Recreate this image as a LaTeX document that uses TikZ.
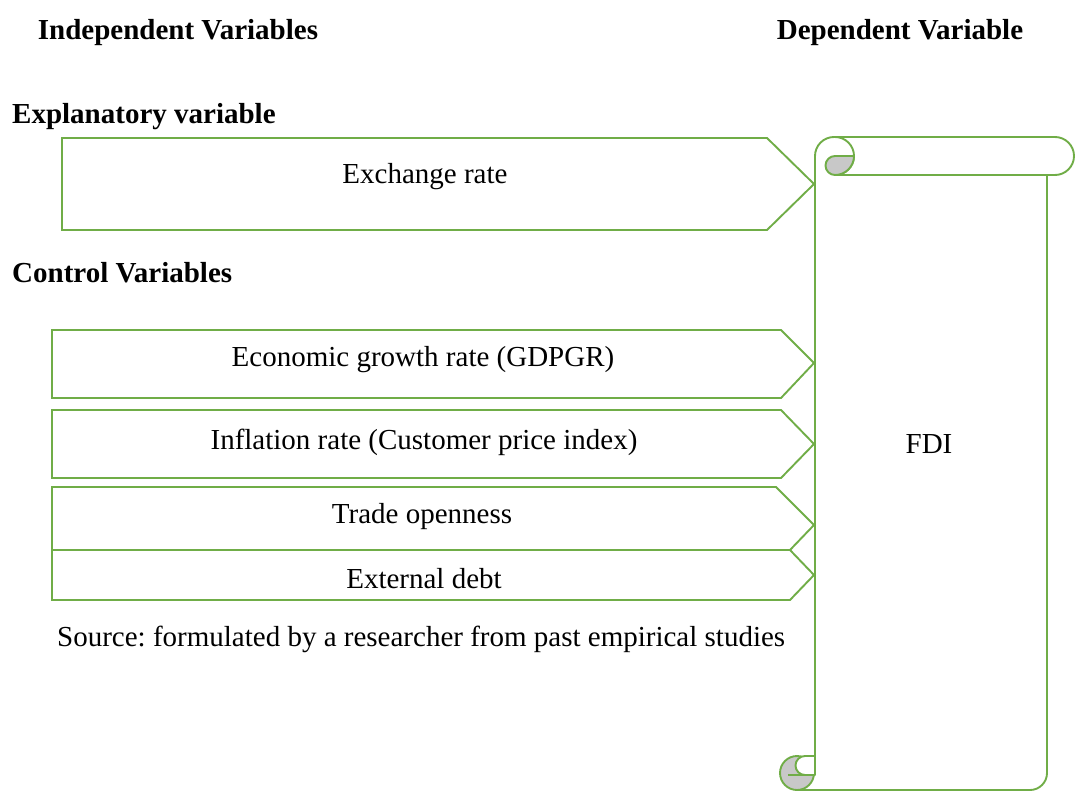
\documentclass[tikz,border=0pt]{standalone}
\usepackage{fontspec}
\setmainfont{Liberation Serif}
\usepackage{tikz}

\definecolor{framegreen}{RGB}{112,173,71}
\definecolor{curlgrey}{RGB}{200,200,200}

\begin{document}
\frenchspacing
\begin{tikzpicture}[x=1pt,y=-1pt,
	varbox/.style={draw=framegreen,line width=1.9pt,line join=miter},
	scrollline/.style={draw=framegreen,line width=1.9pt,line join=round},
	vartext/.style={font=\fontsize{29}{33}\selectfont,inner sep=0pt},
	headtext/.style={font=\fontsize{29}{33}\selectfont\bfseries,inner sep=0pt}]
	\useasboundingbox (0,0) rectangle (1076,792);
	
	\def\boxleft{52}
	\def\tipx{814}
	\def\cornerr{19}
	
	% Headings
	\node[headtext] (indep) at (178,33) {Independent Variables};
	\node[headtext] (dep) at (900,33) {Dependent Variable};
	\node[headtext,anchor=west] (expl) at (12,117) {Explanatory variable};
	\node[headtext,anchor=west] (ctrl) at (12,273) {Control Variables};
	
	% Variable arrows
	\draw[varbox] (62,138) -- (767,138) -- (\tipx,184) -- (767,230) -- (62,230) -- cycle;
	\node[vartext] (exch) at (425,177) {Exchange rate};
	
	\draw[varbox] (\boxleft,330) -- (781,330) -- (\tipx,363) -- (781,398) -- (\boxleft,398) -- cycle;
	\node[vartext] (gdpgr) at (423,360) {Economic growth rate (GDPGR)};
	
	\draw[varbox] (\boxleft,410) -- (781,410) -- (\tipx,444) -- (781,478) -- (\boxleft,478) -- cycle;
	\node[vartext] (infl) at (424,442) {Inflation rate (Customer price index)};
	
	\draw[varbox] (\boxleft,487) -- (776,487) -- (\tipx,525) -- (790,550) -- (\boxleft,550) -- cycle;
	\node[vartext] (trade) at (422,517) {Trade openness};
	
	\draw[varbox] (\boxleft,550) -- (790,550) -- (\tipx,575) -- (790,600) -- (\boxleft,600) -- cycle;
	\node[vartext] (debt) at (424,579) {External debt};
	
	\node[vartext,anchor=west] (source) at (57,639) {Source: formulated by a researcher from past empirical studies};
	
	% Scroll for the dependent variable
	\draw[scrollline] (815,775) -- (815,156) arc (180:270:\cornerr) -- (1055,137)
		arc (270:450:\cornerr) -- (835,175);
	\draw[scrollline] (835,137) arc (270:450:\cornerr);
	\draw[scrollline,fill=curlgrey] (835,156) -- (854,156) arc (0:90:\cornerr)
		arc (90:270:9.5) -- cycle;
	\draw[scrollline] (1047,175) -- (1047,773) arc (0:90:17) -- (797,790);
	\draw[scrollline,fill=curlgrey] (797,773) circle (17);
	\draw[scrollline,fill=white] (805,756) -- (815,756) -- (815,775) -- (805,775)
		arc (90:270:9.5) -- cycle;
	\draw[scrollline] (788,775) -- (815,775);
	\node[vartext] (fdi) at (929,444) {FDI};
\end{tikzpicture}
\end{document}
